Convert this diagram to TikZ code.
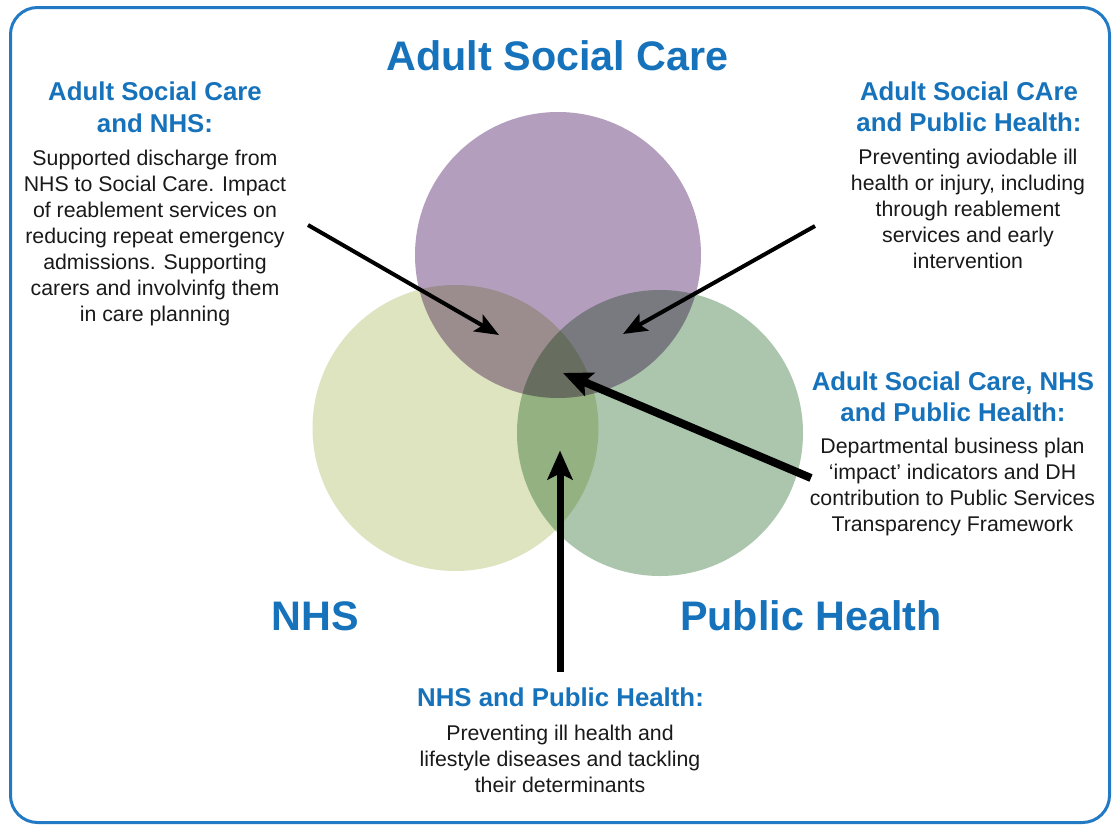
\documentclass[tikz,border=0pt]{standalone}
\usepackage{fontspec}
\setmainfont{Liberation Sans}
\usetikzlibrary{arrows.meta}
\definecolor{hblue}{RGB}{22,114,186}
\definecolor{frameblue}{RGB}{35,122,196}
\definecolor{ascpurple}{RGB}{179,158,189}
\definecolor{nhsgreen}{RGB}{221,228,191}
\definecolor{phgreen}{RGB}{171,198,173}
\definecolor{bodytext}{RGB}{25,25,25}
\begin{document}
\begin{tikzpicture}[x=1pt,y=-1pt,
  bigtitle/.style={font=\fontsize{41.3}{48}\selectfont\bfseries, text=hblue, inner sep=0pt, anchor=base},
  heading/.style={font=\fontsize{25.8}{31.5}\selectfont\bfseries, text=hblue, inner sep=0pt, align=center, anchor=base},
  bodytxt/.style={font=\fontsize{21.3}{26}\selectfont, text=bodytext, inner sep=0pt, align=center, anchor=base},
  venn/.style={circle, inner sep=0pt, minimum size=286pt},
  pointer/.style={line width=4pt, -{Stealth[length=24pt, width=19pt, inset=5pt]}},
  bigpointer/.style={line width=#1, -{Stealth[length=29pt, width=25pt, inset=6pt]}}]
\useasboundingbox (0,0) rectangle (1112,825);
\draw[frameblue, line width=3pt, rounded corners=27pt] (10.5,7.5) rectangle (1109.5,822.5);
% circles
\begin{scope}[blend group=multiply]
  \node[venn, fill=ascpurple] (asc) at (558,255) {};
  \node[venn, fill=nhsgreen] (nhs) at (455.5,428) {};
  \node[venn, fill=phgreen] (ph) at (660,433) {};
\end{scope}
% titles
\node[bigtitle] (tasc) at (557.5,70) {Adult Social Care};
\node[bigtitle] (tnhs) at (315,630) {NHS};
\node[bigtitle] (tph) at (811,630) {Public Health};
% text blocks (anchor base = baseline of the last line)
\node[heading] (h1) at (155,132) {Adult Social Care\\and NHS:};
\node[bodytxt] (b1) at (155,321) {Supported discharge from\\NHS to Social Care. Impact\\of reablement services on\\reducing repeat emergency\\admissions. Supporting\\carers and involvinfg them\\in care planning};
\node[heading] (h2) at (969,131.5) {Adult Social CAre\\and Public Health:};
\node[bodytxt] (b2) at (968,268) {Preventing aviodable ill\\health or injury, including\\through reablement\\services and early\\intervention};
\node[heading] (h3) at (953,421.5) {Adult Social Care, NHS\\and Public Health:};
\node[bodytxt] (b3) at (952.5,531.5) {Departmental business plan\\`impact' indicators and DH\\contribution to Public Services\\Transparency Framework};
\node[heading] (h4) at (560.5,706.5) {NHS and Public Health:};
\node[bodytxt] (b4) at (560,792) {Preventing ill health and\\lifestyle diseases and tackling\\their determinants};
% arrows
\coordinate (s1) at (308,225);
\coordinate (e1) at (499,335);
\coordinate (s2) at (815,226);
\coordinate (e2) at (623,334);
\coordinate (s3) at (811,478);
\coordinate (e3) at (563,373);
\coordinate (s4) at (560,672);
\coordinate (e4) at (560,450.5);
\draw[pointer] (s1) -- (e1);
\draw[pointer] (s2) -- (e2);
\draw[bigpointer=8pt] (s3) -- (e3);
\draw[bigpointer=7pt] (s4) -- (e4);
\end{tikzpicture}
\end{document}
